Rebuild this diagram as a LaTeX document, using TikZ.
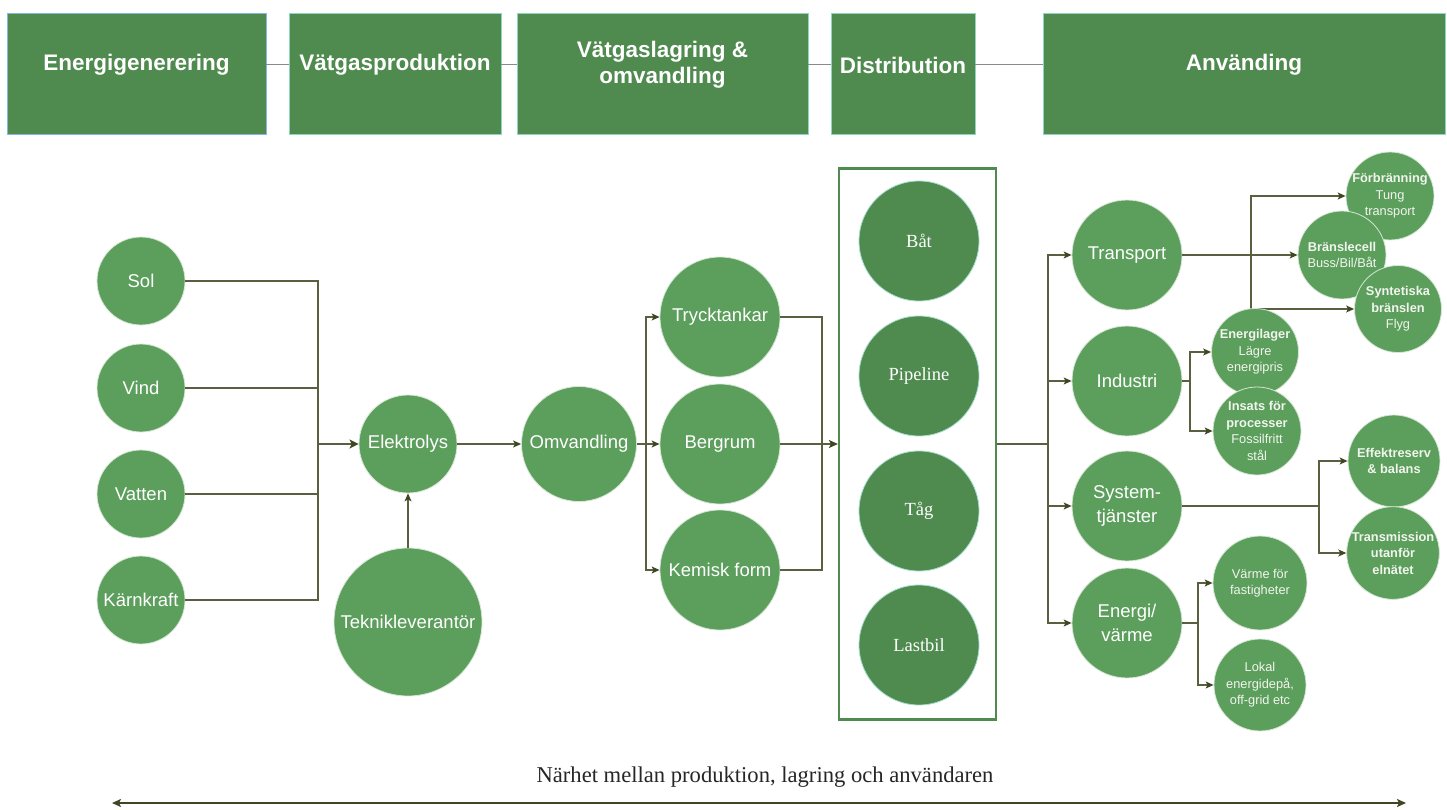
\documentclass[tikz,border=0pt]{standalone}
\usepackage{fontspec}
\setmainfont{Liberation Serif}
\setsansfont{Liberation Sans}
\usetikzlibrary{arrows.meta,calc}
\definecolor{hdrgreen}{HTML}{4F8A4F}
\definecolor{circgreen}{HTML}{5C9E5C}
\definecolor{tealedge}{HTML}{8FD6C2}
\definecolor{blueedge}{HTML}{86B6E6}
\definecolor{connc}{HTML}{5A603F}
\definecolor{tipc}{HTML}{3F4622}
\definecolor{hlinec}{HTML}{8A8A8A}
\definecolor{softwhite}{HTML}{F2F5EE}
\tikzset{
  hdr/.style={rectangle, fill=hdrgreen, draw=tealedge, line width=0.8pt, inner sep=0pt},
  hdrtext/.style={text=white, font=\sffamily\bfseries\fontsize{22.5}{26}\selectfont, align=center},
  circ/.style={circle, fill=circgreen, draw=white!75!circgreen, line width=0.8pt, inner sep=0pt, text=white, align=center, font=\sffamily\fontsize{18.5}{24}\selectfont},
  dist/.style={circle, fill=hdrgreen, draw=tealedge!80!white, line width=0.8pt, inner sep=0pt, text=white, minimum size=120pt, font=\rmfamily\fontsize{18.5}{21}\selectfont},
  small/.style={circle, fill=circgreen, draw=white!75!circgreen, line width=0.8pt, inner sep=0pt, text=softwhite, align=center, font=\sffamily\fontsize{12.8}{16.5}\selectfont},
  conn/.style={draw=connc, line width=1.1pt},
  arr/.style={conn, -{Stealth[length=8pt,width=7pt,inset=2pt,color=tipc]}},
  hline/.style={draw=hlinec, line width=1pt}
}
\begin{document}
\begin{tikzpicture}[x=1pt,y=-1pt]
\useasboundingbox (0,0) rectangle (1447,810);

% ---------- header row ----------
\node[hdr, draw=blueedge, minimum width=259pt, minimum height=121pt] (h1) at (136.5,73.5) {};
\node[hdr, minimum width=212pt, minimum height=121pt] (h2) at (395,73.5) {};
\node[hdr, minimum width=291pt, minimum height=121pt] (h3) at (662.5,73.5) {};
\node[hdr, minimum width=144pt, minimum height=121pt] (h4) at (903,73.5) {};
\node[hdr, minimum width=402pt, minimum height=121pt] (h5) at (1244,73.5) {};
\node[hdrtext] (t1) at (136.5,65) {Energigenerering};
\node[hdrtext] (t2) at (395,65) {Vätgasproduktion};
\node[hdrtext] (t3) at (662.5,65) {Vätgaslagring \&\\omvandling};
\node[hdrtext] (t4) at (903,65) {Distribution};
\node[hdrtext] (t5) at (1244,65) {Använding};
\draw[hline] (h1.east |- t1) -- (h2.west |- t1);
\draw[hline] (h2.east |- t1) -- (h3.west |- t1);
\draw[hline] (h3.east |- t1) -- (h4.west |- t1);
\draw[hline] (h4.east |- t1) -- (h5.west |- t1);

% ---------- energy sources ----------
\node[circ, minimum size=88pt] (sol) at (141,281) {Sol};
\node[circ, minimum size=88pt] (vind) at (141,388) {Vind};
\node[circ, minimum size=88pt] (vatten) at (141,494) {Vatten};
\node[circ, minimum size=88pt] (karn) at (141,600) {Kärnkraft};
\coordinate (bus1) at (318,444);
\draw[conn] (sol.east) -| (bus1);
\draw[conn] (vind.east) -| (bus1);
\draw[conn] (vatten.east) -| (bus1);
\draw[conn] (karn.east) -| (bus1);

\node[circ, minimum size=98pt] (elek) at (408,444) {Elektrolys};
\node[circ, minimum size=148pt] (tek) at (408,622) {Teknikleverantör};
\draw[conn, line width=2.6pt, -{Stealth[length=9pt,width=9pt,inset=2pt,color=tipc]}] (bus1) -- (elek.west);
\draw[arr] (tek.north) -- (elek.south);

% ---------- storage ----------
\node[circ, minimum size=115pt] (omv) at (579,444) {Omvandling};
\draw[arr] (elek.east) -- (omv.west);
\node[circ, minimum size=120pt] (tryck) at (720,317) {Trycktankar};
\node[circ, minimum size=120pt] (berg) at (720,444) {Bergrum};
\node[circ, minimum size=120pt] (kem) at (720,570) {Kemisk form};
\coordinate (sp1) at (646,444);
\draw[conn] (omv.east) -- (sp1);
\draw[arr] (sp1) |- (tryck.west);
\draw[arr] (sp1) -- (berg.west);
\draw[arr] (sp1) |- (kem.west);

% ---------- distribution ----------
\node[rectangle, draw=hdrgreen, line width=2.2pt, minimum width=157pt, minimum height=551pt, inner sep=0pt] (frame) at (917.5,444) {};
\coordinate (bus2) at (822,444);
\draw[conn] (tryck.east) -| (bus2);
\draw[conn] (kem.east) -| (bus2);
\draw[conn] (berg.east) -- (bus2);
\draw[conn, -{Stealth[length=9pt,width=8pt,inset=2pt,color=tipc]}] (bus2) -- (frame.west);
\node[dist] (bat) at (919,241) {Båt};
\node[dist] (pipe) at (919,376) {Pipeline};
\node[dist] (tag) at (919,511) {Tåg};
\node[dist] (last) at (919,645) {Lastbil};

% ---------- usage ----------
\coordinate (bus3) at (1048,444);
\draw[conn] (frame.east) -- (bus3);
\node[circ, minimum size=110pt] (trans) at (1127,255) {Transport};
\node[circ, minimum size=110pt] (ind) at (1127,381) {Industri};
\node[circ, minimum size=110pt] (sys) at (1127,506) {System-\\tjänster};
\node[circ, minimum size=110pt] (ener) at (1127,623) {Energi/\\värme};
\draw[arr] (bus3) |- (trans.west);
\draw[arr] (bus3) |- (ind.west);
\draw[arr] (bus3) |- (sys.west);
\draw[arr] (bus3) |- (ener.west);

% transport branch
\node[small, minimum size=88pt] (forb) at (1390,196) {\textbf{Förbränning}\\Tung\\transport};
\node[small, minimum size=88pt] (brans) at (1342,255) {\textbf{Bränslecell}\\Buss/Bil/Båt};
\node[small, minimum size=87pt] (synt) at (1398,309) {\textbf{Syntetiska}\\\textbf{bränslen}\\Flyg};
\coordinate (tb) at (1251,255);
\draw[arr] (trans.east) -- (brans.west);
\draw[arr] (tb) |- (forb.west);
\draw[arr] (tb) |- (synt.west);

% industry branch
\node[small, minimum size=87pt] (enl) at (1255,352) {\textbf{Energilager}\\Lägre\\energipris};
\node[small, minimum size=88pt] (ins) at (1257,431) {\textbf{Insats för}\\\textbf{processer}\\Fossilfritt\\stål};
\coordinate (ib) at (1190,381);
\draw[conn] (ind.east) -- (ib);
\draw[arr] (ib) |- (enl.west);
\draw[arr] (ib) |- (ins.west);

% system services branch
\node[small, minimum size=92pt] (eff) at (1394,461) {\textbf{Effektreserv}\\\textbf{\& balans}};
\node[small, minimum size=90pt] (tra) at (1393,553) {\textbf{Transmission}\\\textbf{utanför}\\\textbf{elnätet}};
\coordinate (sb) at (1319,506);
\draw[conn] (sys.east) -- (sb);
\draw[arr] (sb) |- (eff.west);
\draw[arr] (sb) |- (tra.west);

% energy/heat branch
\node[small, minimum size=94pt] (varm) at (1260,583) {Värme för\\fastigheter};
\node[small, minimum size=92pt] (lok) at (1260,685) {Lokal\\energidepå,\\off-grid etc};
\coordinate (eb) at (1198,623);
\draw[conn] (ener.east) -- (eb);
\draw[arr] (eb) |- (varm.west);
\draw[arr] (eb) |- (lok.west);

% ---------- bottom ----------
\node[font=\rmfamily\fontsize{22.6}{26}\selectfont, text=black!85] (near) at (765,777) {Närhet mellan produktion, lagring och användaren};
\coordinate (bl) at (112,803);
\coordinate (br) at (1406,803);
\draw[draw=tipc, line width=2pt, {Stealth[length=9pt,width=8pt,inset=2pt]}-{Stealth[length=9pt,width=8pt,inset=2pt]}] (bl) -- (br);
\end{tikzpicture}
\end{document}
